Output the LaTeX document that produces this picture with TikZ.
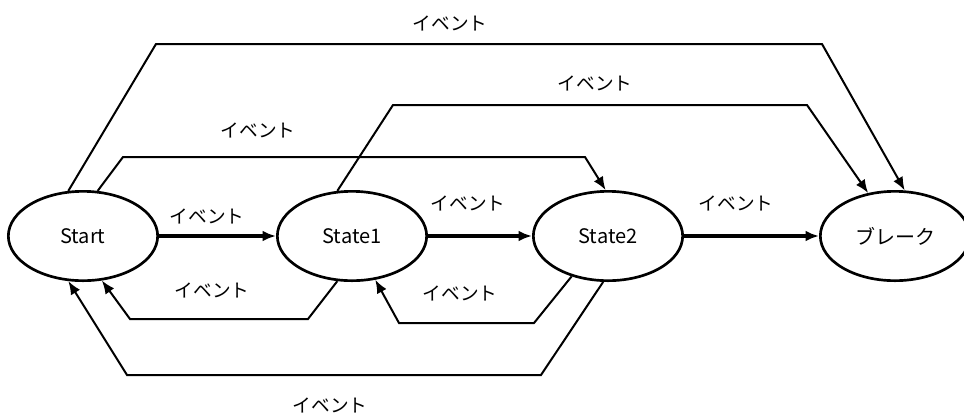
\documentclass[tikz,border=0pt]{standalone}
\usepackage{fontspec}
\setmainfont{Noto Sans CJK JP}
\usetikzlibrary{arrows.meta,shapes}
\tikzstyle{state}=[ellipse,draw,line width=2pt,minimum width=112pt,minimum height=67pt,inner sep=0pt,font=\fontsize{15}{17}\selectfont]
\tikzstyle{edge}=[draw,line width=2.4pt,-{Latex[length=10pt,width=8pt]}]
\tikzstyle{bentedge}=[draw,line width=1.5pt,-{Latex[length=10pt,width=8pt]}]
\tikzstyle{lbl}=[inner sep=0pt,font=\fontsize{14}{16}\selectfont]

\begin{document}
\begin{tikzpicture}[x=0.75pt,y=-0.75pt]
	\useasboundingbox (0,0) rectangle (964,419);
	\node[state] (start) at (83,236) {Start};
	\node[state] (st1) at (352,236) {State1};
	\node[state] (st2) at (608,236) {State2};
	\node[state] (brk) at (895,236) {ブレーク};
	% straight transitions
	\path[edge] (start.east) -- (st1.west);
	\path[edge] (st1.east) -- (st2.west);
	\path[edge] (st2.east) -- (brk.west);
	% transitions over the top
	\path[bentedge] (start.108) -- (156,44) -- (822,44) -- (brk.78);
	\path[bentedge] (st1.108) -- (393,105) -- (807,105) -- (brk.122);
	\path[bentedge] (start.72) -- (123,157) -- (585,157) -- (st2.93);
	% transitions back underneath
	\path[bentedge] (st1.252) -- (308,319) -- (130,319) -- (start.293);
	\path[bentedge] (st2.228) -- (534,323) -- (399,323) -- (st1.298);
	\path[bentedge] (st2.264) -- (541,375) -- (127,375) -- (start.252);
	% labels
	\node[lbl] (ltop) at (450,23) {イベント};
	\node[lbl] (lmid) at (595,83) {イベント};
	\node[lbl] (llow) at (258,130) {イベント};
	\node[lbl] (la) at (207,216) {イベント};
	\node[lbl] (lb) at (468,203) {イベント};
	\node[lbl] (lc) at (736,203) {イベント};
	\node[lbl] (ld) at (212,290) {イベント};
	\node[lbl] (le) at (460,293) {イベント};
	\node[lbl] (lbot) at (330,405) {イベント};
\end{tikzpicture}
\end{document}
